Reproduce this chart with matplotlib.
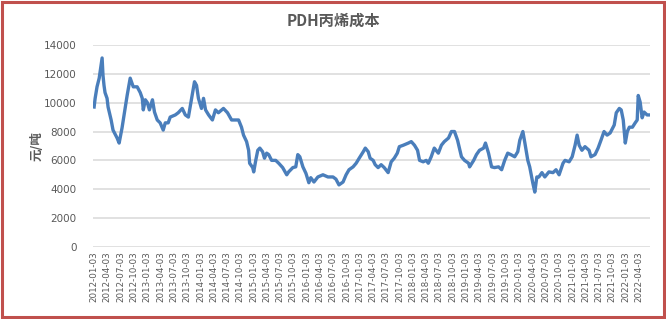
import matplotlib
matplotlib.use("Agg")
import matplotlib.pyplot as plt
import matplotlib.dates as mdates
from matplotlib.patches import Rectangle
import pandas as pd

plt.rcParams['font.family'] = ['Noto Sans CJK SC', 'DejaVu Sans']

# PDH propylene cost, yuan/tonne
dates = [
    "2012-01-03", "2012-01-10", "2012-01-23", "2012-02-07", "2012-02-27", "2012-03-04",
    "2012-03-11", "2012-03-18", "2012-04-01", "2012-04-08", "2012-04-29", "2012-05-12",
    "2012-06-09", "2012-06-23", "2012-07-13", "2012-08-03", "2012-08-17", "2012-09-07",
    "2012-09-28", "2012-10-25", "2012-11-15", "2012-11-29", "2012-12-06", "2012-12-20",
    "2013-01-03", "2013-01-17", "2013-02-07", "2013-02-21", "2013-03-12", "2013-04-01",
    "2013-04-22", "2013-05-06", "2013-05-26", "2013-06-09", "2013-07-14", "2013-08-03",
    "2013-08-31", "2013-09-21", "2013-10-12", "2013-11-03", "2013-11-23", "2013-12-07",
    "2013-12-20", "2014-01-10", "2014-01-24", "2014-02-07", "2014-02-28", "2014-03-26",
    "2014-04-16", "2014-05-06", "2014-06-10", "2014-07-08", "2014-08-05", "2014-09-02",
    "2014-09-22", "2014-10-12", "2014-10-26", "2014-11-16", "2014-11-30", "2014-12-07",
    "2014-12-28", "2015-01-04", "2015-01-18", "2015-02-01", "2015-02-15", "2015-03-06",
    "2015-03-19", "2015-04-03", "2015-04-17", "2015-05-07", "2015-06-04", "2015-06-25",
    "2015-07-22", "2015-08-19", "2015-09-01", "2015-09-30", "2015-10-20", "2015-11-03",
    "2015-11-17", "2015-12-08", "2015-12-29", "2016-01-18", "2016-01-31", "2016-02-22",
    "2016-03-20", "2016-04-24", "2016-05-28", "2016-07-02", "2016-07-22", "2016-08-12",
    "2016-09-09", "2016-09-30", "2016-10-20", "2016-11-17", "2016-12-08", "2016-12-29",
    "2017-01-26", "2017-02-09", "2017-03-01", "2017-03-14", "2017-04-04", "2017-04-18",
    "2017-05-08", "2017-05-29", "2017-06-19", "2017-07-16", "2017-08-06", "2017-08-27",
    "2017-09-17", "2017-10-01", "2017-10-28", "2017-12-02", "2017-12-22", "2018-01-13",
    "2018-02-03", "2018-02-17", "2018-03-14", "2018-04-04", "2018-04-18", "2018-05-08",
    "2018-05-29", "2018-06-26", "2018-07-17", "2018-08-06", "2018-09-04", "2018-09-24",
    "2018-10-15", "2018-11-05", "2018-11-18", "2018-12-02", "2018-12-23", "2019-01-20",
    "2019-01-27", "2019-02-24", "2019-03-15", "2019-04-05", "2019-05-03", "2019-05-16",
    "2019-06-06", "2019-06-27", "2019-07-17", "2019-08-14", "2019-09-04", "2019-09-25",
    "2019-10-16", "2019-11-06", "2019-12-03", "2019-12-24", "2020-01-07", "2020-01-28",
    "2020-02-11", "2020-03-02", "2020-03-15", "2020-04-05", "2020-04-19", "2020-05-03",
    "2020-05-17", "2020-06-07", "2020-06-27", "2020-07-25", "2020-08-22", "2020-09-12",
    "2020-10-03", "2020-10-30", "2020-11-13", "2020-12-11", "2021-01-01", "2021-01-21",
    "2021-02-04", "2021-02-18", "2021-03-09", "2021-03-30", "2021-04-27", "2021-05-10",
    "2021-06-07", "2021-06-28", "2021-07-18", "2021-08-08", "2021-08-29", "2021-09-19",
    "2021-10-17", "2021-10-31", "2021-11-21", "2021-12-04", "2021-12-18", "2022-01-01",
    "2022-01-15", "2022-01-29", "2022-02-19", "2022-03-10", "2022-03-24", "2022-03-31",
    "2022-04-13", "2022-04-27", "2022-05-10", "2022-05-31", "2022-06-14",
]
cost = [
    9700, 10300, 11100, 11700, 13100, 11900,
    11200, 10700, 10300, 9700, 8800, 8100,
    7550, 7200, 8250, 9600, 10500, 11700,
    11100, 11100, 10700, 10300, 9500, 10200,
    10000, 9500, 10200, 9350, 8800, 8600,
    8100, 8600, 8600, 9000, 9150, 9300,
    9600, 9150, 9000, 10300, 11450, 11200,
    10300, 9600, 10300, 9500, 9150, 8800,
    9500, 9300, 9600, 9300, 8800, 8800,
    8800, 8300, 7750, 7300, 6700, 5800,
    5500, 5200, 6000, 6700, 6850, 6600,
    6150, 6500, 6400, 6000, 6000, 5800,
    5500, 5000, 5200, 5500, 5550, 6400,
    6250, 5550, 5100, 4450, 4800, 4500,
    4850, 5000, 4850, 4850, 4700, 4300,
    4500, 5000, 5350, 5550, 5800, 6150,
    6600, 6850, 6600, 6150, 6000, 5700,
    5500, 5700, 5500, 5150, 5900, 6150,
    6500, 6950, 7050, 7200, 7300, 7050,
    6700, 6000, 5900, 6000, 5800, 6250,
    6850, 6500, 7050, 7300, 7550, 8000,
    8000, 7400, 6850, 6250, 6000, 5800,
    5550, 6000, 6400, 6700, 6850, 7200,
    6500, 5550, 5500, 5550, 5350, 6000,
    6500, 6400, 6250, 6600, 7400, 8000,
    7200, 6000, 5550, 4450, 3800, 4850,
    4850, 5150, 4850, 5200, 5150, 5350,
    5000, 5800, 6000, 5900, 6250, 7050,
    7750, 7050, 6700, 6950, 6700, 6250,
    6400, 6850, 7400, 8000, 7750, 7900,
    8450, 9300, 9600, 9500, 8800, 7200,
    8000, 8300, 8300, 8600, 8800, 10500,
    10050, 8950, 9350, 9150, 9150,
]
tick_dates = pd.date_range("2012-01-01", "2022-04-01", freq="3MS") + pd.Timedelta(days=2)
y_ticks = list(range(0, 14001, 2000))

dates = pd.to_datetime(dates)

fig = plt.figure(figsize=(6.66, 3.19), dpi=100)
ax = fig.add_axes([0.14, 0.226, 0.836, 0.633])

ax.plot(dates, cost, color="#4A7EBB", linewidth=2.4, solid_joinstyle="round")

ax.set_ylim(0, 14000)
ax.set_yticks(y_ticks)
ax.set_xlim(pd.Timestamp("2011-12-28"), pd.Timestamp("2022-06-20"))
ax.set_xticks(tick_dates)
ax.xaxis.set_major_formatter(mdates.DateFormatter("%Y-%m-%d"))
ax.tick_params(axis="x", rotation=90, labelsize=6.3, length=0, pad=3, colors="#595959")
ax.tick_params(axis="y", labelsize=7.5, length=0, pad=12, colors="#595959")
for lbl in ax.get_xticklabels() + ax.get_yticklabels():
    lbl.set_family("DejaVu Sans")

ax.grid(axis="y", color="#D9D9D9", linewidth=1.1)
ax.set_axisbelow(True)
for s in ax.spines.values():
    s.set_visible(False)

ax.set_ylabel("元/吨", fontsize=9, fontweight="bold", color="#595959", labelpad=4)
ax.yaxis.set_label_coords(-0.09, 0.5)
fig.text(0.5, 0.935, "PDH丙烯成本", ha="center", va="center", fontsize=11,
         fontweight="bold", color="#595959")

# red outer frame
fig.patches.append(Rectangle((0.003, 0.005), 0.994, 0.99, transform=fig.transFigure,
                             fill=False, edgecolor="#C0504D", linewidth=2.2))

fig.savefig("out.png", dpi=100)
